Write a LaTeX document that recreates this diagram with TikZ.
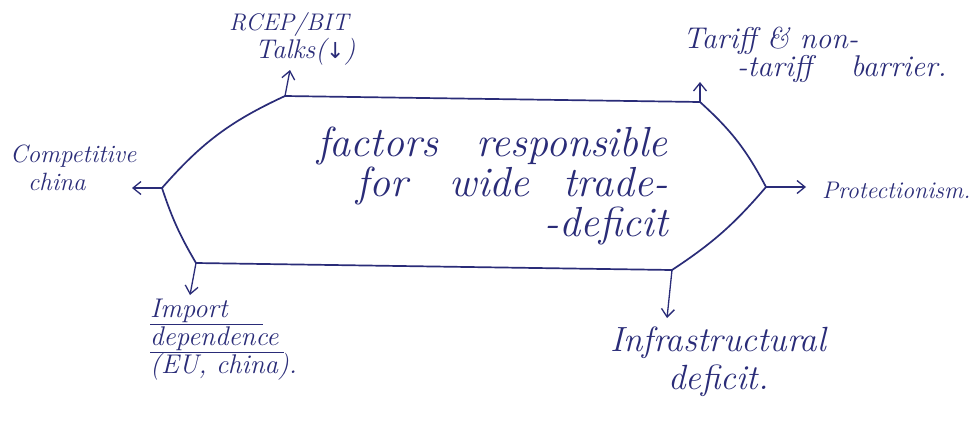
\documentclass[tikz,border=0pt]{standalone}
\usepackage{fontspec}
\newfontfamily\symfont{DejaVu Sans}
\usetikzlibrary{arrows.meta}
\definecolor{ink}{RGB}{42,44,120}
\newcommand{\fs}[2]{\fontsize{#1}{#2}\selectfont}
\tikzset{
  hexline/.style={draw=ink, line width=1.7pt, line join=round},
  pointer/.style={draw=ink, line width=1.3pt, -{Straight Barb[length=8pt,width=13pt]}},
  factor/.style={text=ink, align=left, inner sep=0pt},
  title/.style={text=ink, font=\itshape\fs{42}{40}, align=right, inner sep=0pt}
}
\begin{document}
\begin{tikzpicture}[x=1pt,y=-1pt]
\useasboundingbox (0,0) rectangle (974,424);
\fill[white] (0,0) rectangle (974,424);

% corners of the central shape
\coordinate (tl) at (285,96);
\coordinate (tr) at (700,102);
\coordinate (r)  at (766,187);
\coordinate (br) at (672,270);
\coordinate (bl) at (196,263);
\coordinate (l)  at (162,188);

% central shape
\draw[hexline] (l) to[bend left=12] (tl) -- (tr) to[bend left=10] (r)
  to[bend left=8] (br) -- (bl) to[bend left=6] (l);

\node[title, anchor=east] (centre) at (668,186)
  {factors\hspace{0.9em}responsible\\for\hspace{1em}wide\hspace{0.8em}trade-\\-deficit};

% arrow tips
\coordinate (tlTip) at (290,70);
\coordinate (trTip) at (700,82);
\coordinate (rTip)  at (806,187);
\coordinate (brTip) at (667,318);
\coordinate (blTip) at (190,295);
\coordinate (lTip)  at (132,188);

\draw[pointer] (tl) -- (tlTip);
\draw[pointer] (tr) -- (trTip);
\draw[pointer] (r)  -- (rTip);
\draw[pointer] (br) -- (brTip);
\draw[pointer] (bl) -- (blTip);
\draw[pointer] (l)  -- (lTip);

% factors
\node[factor, font=\itshape\fs{24}{28}, anchor=west] (rcep) at (229,39)
  {RCEP/BIT\\\hspace*{26pt}{\fs{27}{28}Talks({\symfont\fs{22}{28}↓})}};
\node[factor, font=\itshape\fs{30}{26}, anchor=west] (tariff) at (683,55)
  {Tariff \& non-\\\hspace*{54pt}-tariff\hspace{1.3em}barrier.};
\node[factor, font=\itshape\fs{24}{28}, anchor=west] (prot) at (822,190)
  {Protectionism.};
\node[factor, font=\itshape\fs{35}{38}, anchor=west] (infra) at (610,362)
  {Infrastructural\\\hspace*{58pt}deficit.};
\node[factor, font=\itshape\fs{27}{28}, anchor=west] (import) at (150,340)
  {\underline{Import\hspace{1.3em}}\\\underline{dependence\hspace{0.2em}}\\(EU, china).};
\node[factor, font=\itshape\fs{25}{28}, anchor=west] (china) at (10,168)
  {Competitive\\\hspace*{18pt}china};
\end{tikzpicture}
\end{document}
